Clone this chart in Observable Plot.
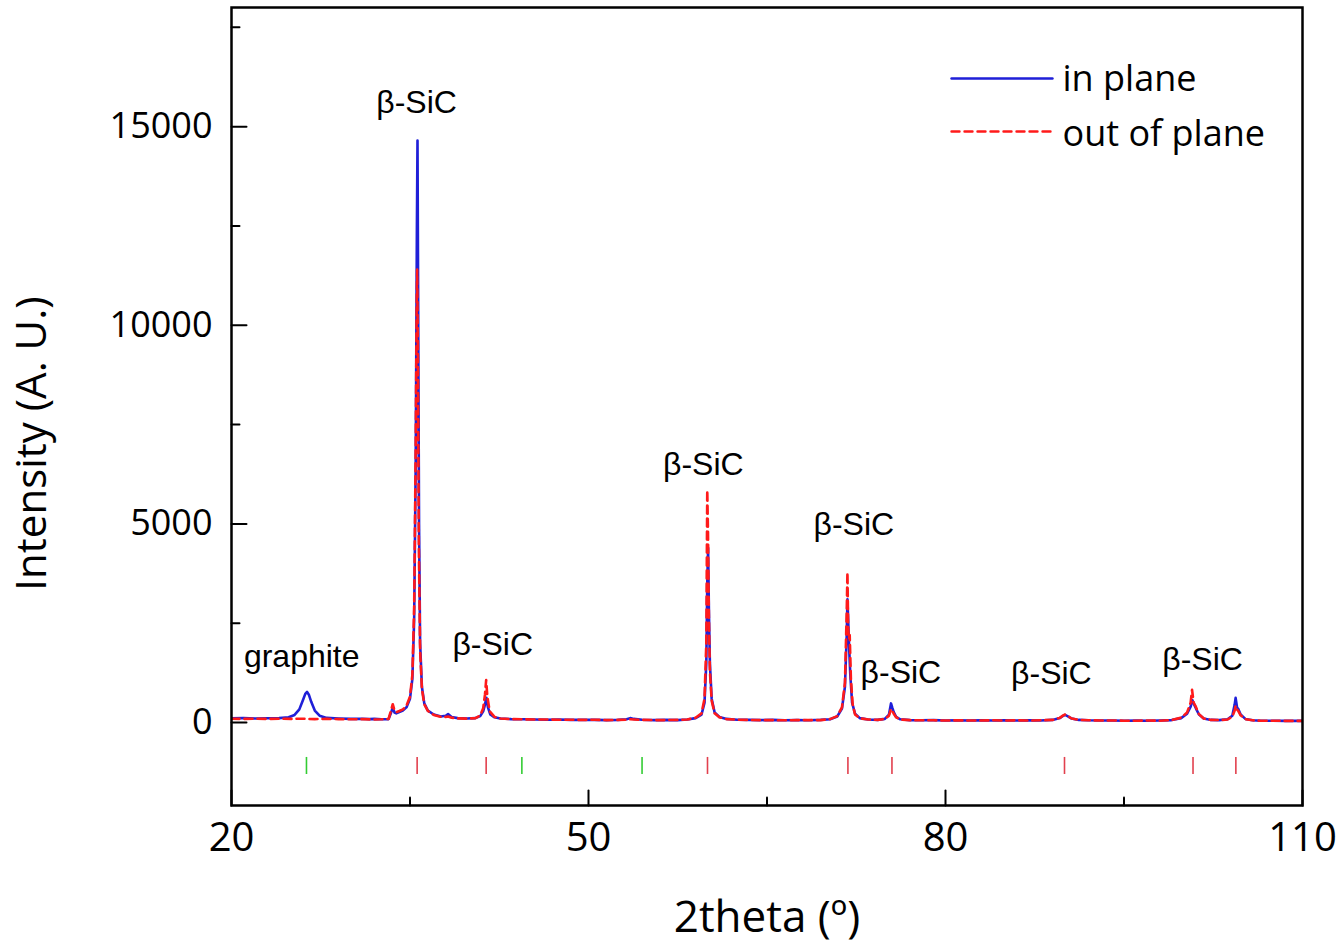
<!DOCTYPE html>
<html>
<head>
<meta charset="utf-8">
<script src="https://cdn.jsdelivr.net/npm/d3@7"></script>
<script src="https://cdn.jsdelivr.net/npm/@observablehq/plot@0.6"></script>
<style>
  html, body { margin: 0; padding: 0; background: #fff; }
  #chart { width: 1340px; height: 944px; }
</style>
</head>
<body>
<div id="chart"></div>
<script>
// ---------- data ----------
const inPlaneX = [20,21,22,23,24,24.8,25.3,25.7,26.0,26.2,26.35,26.5,26.7,27.0,27.4,28,29,30,31,31.6,32,32.6,33.2,33.4,33.55,33.7,33.85,34.1,34.4,34.7,35.0,35.2,35.35,35.48,35.58,35.63,35.68,35.76,35.85,36.0,36.2,36.5,37.0,37.6,38.0,38.2,38.5,39.0,39.8,40.5,40.9,41.15,41.3,41.42,41.55,41.75,42.1,42.6,43.5,44.5,45.5,46.5,47.5,48.5,49.5,50.5,51.5,52.5,53.2,53.5,53.8,54.5,55.5,56.5,57.5,58.3,59.0,59.5,59.75,59.9,59.98,60.05,60.12,60.2,60.35,60.6,61.0,61.6,62.5,63.5,64.5,65.5,66.5,67.5,68.5,69.5,70.3,70.9,71.3,71.55,71.7,71.76,71.82,71.9,72.0,72.15,72.4,72.8,73.5,74.3,74.9,75.25,75.42,75.52,75.65,75.85,76.2,77,78,79,80,81,82,83,84,85,86,87,88,89,89.6,89.9,90.05,90.25,90.6,91.2,92,93,94,95,96,97,98,99,99.8,100.3,100.6,100.75,100.9,101.05,101.3,101.7,102.3,103,103.7,104.1,104.3,104.38,104.5,104.62,104.8,105.2,105.8,106.5,107.5,108.5,109.5,110];
const inPlaneY = [105,110,100,105,110,130,190,330,560,720,770,700,520,300,170,115,100,90,95,85,90,80,85,240,370,250,230,260,300,380,600,1100,2600,6500,12500,14650,11000,5000,2000,900,480,300,200,150,170,210,140,110,100,110,160,280,450,620,380,200,130,100,85,80,75,70,75,65,70,65,60,65,80,110,90,70,60,65,60,75,110,200,500,1500,3500,4400,2800,1500,600,250,140,90,70,65,60,65,55,60,55,65,80,150,350,900,2200,3100,2600,1900,1200,500,220,110,75,65,90,200,480,380,260,140,80,60,55,60,50,55,50,55,50,55,50,55,50,65,110,170,190,160,100,65,55,50,50,45,50,45,50,60,110,220,400,560,450,350,200,100,65,60,80,170,450,620,380,330,200,90,55,45,45,40,40,40];

const outPlaneX = [20,21,22,23,24,25,26,27,28,29,30,31,32,32.6,33.2,33.4,33.55,33.7,33.85,34.1,34.4,34.7,35.0,35.2,35.35,35.48,35.56,35.6,35.66,35.74,35.85,36.0,36.2,36.5,37.0,37.6,38.0,38.2,38.5,39.0,39.8,40.5,40.9,41.15,41.3,41.4,41.5,41.7,42.1,42.6,43.5,44.5,45.5,46.5,47.5,48.5,49.5,50.5,51.5,52.5,53.2,53.5,53.8,54.5,55.5,56.5,57.5,58.3,59.0,59.5,59.75,59.9,59.98,60.04,60.12,60.2,60.35,60.6,61.0,61.6,62.5,63.5,64.5,65.5,66.5,67.5,68.5,69.5,70.3,70.9,71.3,71.55,71.7,71.76,71.82,71.88,71.95,72.05,72.2,72.4,72.8,73.5,74.3,74.9,75.25,75.42,75.52,75.65,75.85,76.2,77,78,79,80,81,82,83,84,85,86,87,88,89,89.6,89.9,90.05,90.25,90.6,91.2,92,93,94,95,96,97,98,99,99.8,100.3,100.6,100.72,100.85,101.0,101.3,101.7,102.3,103,103.7,104.1,104.3,104.38,104.5,104.62,104.8,105.2,105.8,106.5,107.5,108.5,109.5,110];
const outPlaneY = [95,90,95,90,95,90,95,85,90,85,80,85,75,80,90,300,460,300,260,290,330,420,650,1200,2900,7000,10500,11400,9500,4500,1800,850,460,290,190,140,140,150,120,105,95,110,180,360,700,1070,650,280,140,100,85,80,75,75,70,70,65,70,60,65,70,80,75,65,60,60,65,75,120,230,600,2000,5850,4800,2600,1300,550,230,130,85,70,65,60,60,55,60,60,60,85,160,380,1000,2800,3780,2400,2100,2200,1100,450,200,105,75,65,85,170,340,300,220,130,75,60,55,55,50,55,50,50,55,50,55,50,55,65,115,180,200,170,100,65,55,50,50,45,45,50,45,60,120,250,500,820,500,420,210,100,65,60,75,150,300,420,330,280,180,85,55,45,45,40,40,40];

const seriesNames = ["in plane", "out of plane"];
const seriesColors = ["#1f1fd8", "#ff1a1a"];
const seriesDash = [null, "8,5"];

// reference peak positions (2theta)
const graphiteRef = [26.3, 44.4, 54.5];
const sicRef = [35.6, 41.4, 60.0, 71.8, 75.5, 90.0, 100.8, 104.4];
const refStickTop = -880;
const refStickBottom = -1310;

// peak annotations
const annText = ["β-SiC", "graphite", "β-SiC", "β-SiC", "β-SiC", "β-SiC", "β-SiC", "β-SiC"];
const annX = [35.55, 25.9, 41.95, 59.65, 72.3, 76.25, 88.9, 101.6];
const annY = [15600, 1660, 1960, 6500, 4980, 1260, 1230, 1580];

const xMajor = [20, 50, 80, 110];
const xMinor = [35, 65, 95];
const yMajor = [0, 5000, 10000, 15000];
const yMinor = [2500, 7500, 12500, 17500];

// ---------- build ----------
const inPlane = inPlaneX.map((x, i) => ({x, y: inPlaneY[i]}));
const outPlane = outPlaneX.map((x, i) => ({x, y: outPlaneY[i]}));
const annotations = annText.map((t, i) => ({t, x: annX[i], y: annY[i]}));

const tickShape = {draw(ctx, l) { ctx.moveTo(0, 0); ctx.lineTo(0, -l); }};

function legendEntry(i, dyLine, dyText) {
  return [
    Plot.vector([seriesNames[i]], {frameAnchor: "top-right", dx: -351, dy: dyLine, length: 101, rotate: 90, anchor: "start",
      shape: tickShape, stroke: seriesColors[i], strokeWidth: 2.4, strokeDasharray: seriesDash[i]}),
    Plot.text([seriesNames[i]], {frameAnchor: "top-right", dx: -240, dy: dyText, textAnchor: "start", lineAnchor: "middle",
      fontSize: 36, fill: "black"})
  ];
}

const chart = Plot.plot({
  width: 1340,
  height: 944,
  marginLeft: 231,
  marginRight: 38,
  marginTop: 7,
  marginBottom: 139,
  style: {fontFamily: "'Open Sans', sans-serif", color: "black", background: "white"},
  x: {domain: [20, 110]},
  y: {domain: [-2090, 18000]},
  marks: [
    // reference sticks
    Plot.ruleX(graphiteRef, {x: d => d, y1: refStickTop, y2: refStickBottom, stroke: "#33cc33", strokeWidth: 1.6}),
    Plot.ruleX(sicRef, {x: d => d, y1: refStickTop, y2: refStickBottom, stroke: "#e2404e", strokeWidth: 1.6}),
    // curves
    Plot.line(inPlane, {x: "x", y: "y", stroke: seriesColors[0], strokeWidth: 2.6, clip: true}),
    Plot.line(outPlane, {x: "x", y: "y", stroke: seriesColors[1], strokeWidth: 2.6, strokeDasharray: seriesDash[1], clip: true}),
    // annotations
    Plot.text(annotations, {x: "x", y: "y", text: "t", fontFamily: "'Liberation Sans', Arial, sans-serif", fontSize: 32, textAnchor: "middle", lineAnchor: "middle", fill: "black"}),
    // frame
    Plot.frame({stroke: "black", strokeWidth: 2.5}),
    // ticks (inward)
    Plot.vector(xMajor, {x: d => d, frameAnchor: "bottom", length: 15, anchor: "start", shape: tickShape, stroke: "black", strokeWidth: 2}),
    Plot.vector(xMinor, {x: d => d, frameAnchor: "bottom", length: 8, anchor: "start", shape: tickShape, stroke: "black", strokeWidth: 2}),
    Plot.vector(yMajor, {y: d => d, frameAnchor: "left", length: 15, rotate: 90, anchor: "start", shape: tickShape, stroke: "black", strokeWidth: 2}),
    Plot.vector(yMinor, {y: d => d, frameAnchor: "left", length: 8, rotate: 90, anchor: "start", shape: tickShape, stroke: "black", strokeWidth: 2}),
    // axis labels
    Plot.axisX(xMajor, {tickSize: 0, tickPadding: 17, fontSize: 40, tickFormat: d => String(d), label: null}),
    Plot.axisY(yMajor, {tickSize: 0, tickPadding: 19, fontSize: 36, tickFormat: d => String(d), label: null}),
    Plot.text(["2theta (º)"], {frameAnchor: "bottom", dy: 112, fontSize: 44, textAnchor: "middle", lineAnchor: "middle", fill: "black"}),
    Plot.text(["Intensity (A. U.)"], {frameAnchor: "left", dx: -199, dy: 37, rotate: -90, fontSize: 42, textAnchor: "middle", lineAnchor: "middle", fill: "black"}),
    // legend
    ...legendEntry(0, 71, 72),
    ...legendEntry(1, 124, 127)
  ]
});
document.getElementById("chart").appendChild(chart);
</script>
</body>
</html>
